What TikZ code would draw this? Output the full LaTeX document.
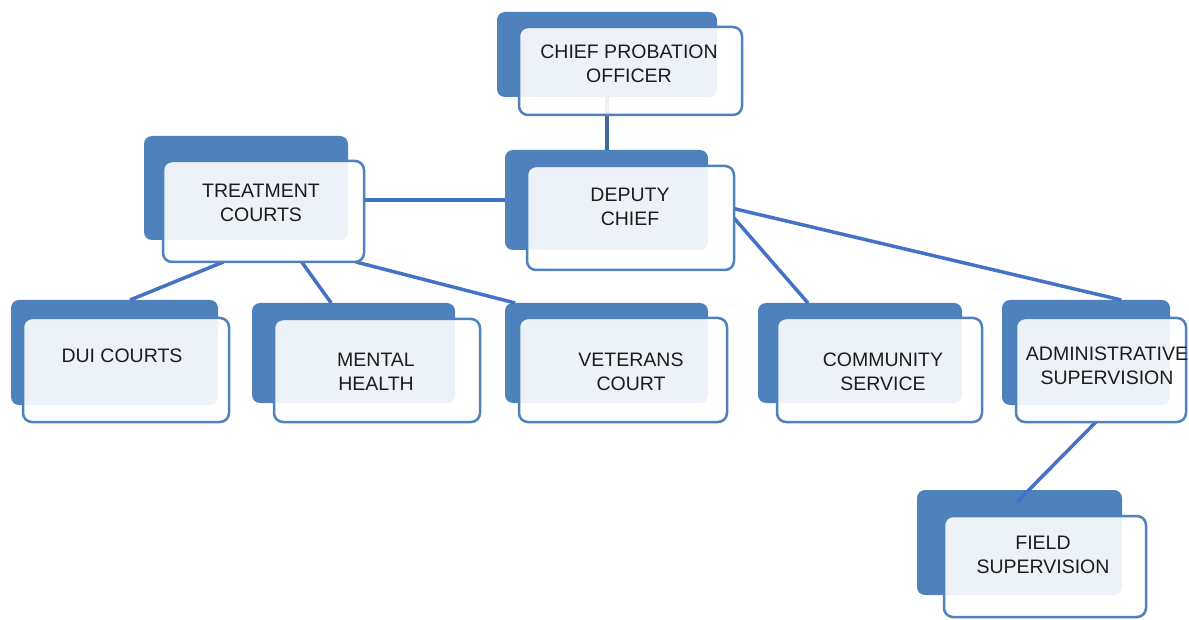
\documentclass[tikz,border=0pt]{standalone}
\usepackage{fontspec}
\setmainfont{Liberation Sans}
\usetikzlibrary{calc}
\definecolor{backblue}{HTML}{4F81BD}
\definecolor{frontblue}{HTML}{4F81BD}
\definecolor{linkblue}{HTML}{4472C4}
\definecolor{stemblue}{HTML}{41699E}
\definecolor{textgray}{HTML}{1C1C1C}
\pgfdeclarelayer{backlayer}
\pgfdeclarelayer{linklayer}
\pgfsetlayers{backlayer,linklayer,main}
\tikzset{
  backbox/.style={fill=backblue, rounded corners=8pt, inner sep=0pt, outer sep=0pt, anchor=north west},
  frontbox/.style={fill=white, fill opacity=0.9, draw=frontblue, draw opacity=1,
                   line width=2.5pt, rounded corners=9pt, inner sep=0pt, outer sep=0pt, anchor=north west},
  lbl/.style={text=textgray, align=center, inner sep=0pt, font=\fontsize{19.5}{23.5}\selectfont},
  link/.style={draw=linkblue, line width=3.5pt},
}
\begin{document}
\begin{tikzpicture}[x=1pt, y=-1pt]
\useasboundingbox (0,0) rectangle (1189,620);

% dark back plates
\begin{pgfonlayer}{backlayer}
  \node[backbox, minimum width=220pt, minimum height=85pt]  (chiefB)  at (497,12)  {};
  \node[backbox, minimum width=204pt, minimum height=104pt] (treatB)  at (144,136) {};
  \node[backbox, minimum width=203pt, minimum height=100pt] (deputyB) at (505,150) {};
  \node[backbox, minimum width=207pt, minimum height=105pt] (duiB)    at (11,300)  {};
  \node[backbox, minimum width=203pt, minimum height=100pt] (mentalB) at (252,303) {};
  \node[backbox, minimum width=203pt, minimum height=100pt] (vetB)    at (505,303) {};
  \node[backbox, minimum width=204pt, minimum height=100pt] (commB)   at (758,303) {};
  \node[backbox, minimum width=168pt, minimum height=105pt] (adminB)  at (1002,300) {};
  \node[backbox, minimum width=205pt, minimum height=105pt] (fieldB)  at (917,490) {};
\end{pgfonlayer}

% light front cards
\node[frontbox, minimum width=223pt, minimum height=88pt]  (chief)  at (519,27)  {};
\node[frontbox, minimum width=201pt, minimum height=101pt] (treat)  at (163,161) {};
\node[frontbox, minimum width=207pt, minimum height=104pt] (deputy) at (527,166) {};
\node[frontbox, minimum width=206pt, minimum height=104pt] (dui)    at (23,318)  {};
\node[frontbox, minimum width=206pt, minimum height=103pt] (mental) at (274,319) {};
\node[frontbox, minimum width=208pt, minimum height=104pt] (vet)    at (519,318) {};
\node[frontbox, minimum width=205pt, minimum height=104pt] (comm)   at (777,318) {};
\node[frontbox, minimum width=170pt, minimum height=104pt] (admin)  at (1016,318) {};
\node[frontbox, minimum width=202pt, minimum height=101pt] (field)  at (944,516) {};

% labels
\node[lbl] (chiefT)  at (629,64)  {CHIEF PROBATION\\OFFICER};
\node[lbl] (treatT)  at (261,203) {TREATMENT\\COURTS};
\node[lbl] (deputyT) at (630,207) {DEPUTY\\CHIEF};
\node[lbl] (duiT)    at (122,356) {DUI COURTS};
\node[lbl] (mentalT) at (376,372) {MENTAL\\HEALTH};
\node[lbl] (vetT)    at (631,372) {VETERANS\\COURT};
\node[lbl] (commT)   at (883,372) {COMMUNITY\\SERVICE};
\node[lbl] (adminT)  at (1107,366) {ADMINISTRATIVE\\SUPERVISION};
\node[lbl] (fieldT)  at (1043,555) {FIELD\\SUPERVISION};

% reporting lines
\begin{pgfonlayer}{linklayer}
  \draw[link, draw=stemblue] (chiefB.south) -- (chiefB.south |- deputyB.north);
  \draw[link] (deputyB.west) -- (deputyB.west -| treat.east);
  \draw[link] ($(treat.south west)!0.30!(treat.south east)$) -- ($(duiB.north west)!0.575!(duiB.north east)$);
  \draw[link] ($(treat.south west)!0.69!(treat.south east)$) -- ($(mentalB.north west)!0.39!(mentalB.north east)$);
  \draw[link] ($(treat.south west)!0.96!(treat.south east)$) -- ($(vetB.north west)!0.05!(vetB.north east)$);
  \draw[link] (deputy.east) -- ($(commB.north west)!0.245!(commB.north east)$);
  \draw[link] ($(deputy.north east)!0.41!(deputy.south east)$) -- ($(adminB.north west)!0.71!(adminB.north east)$);
  \draw[link] ($(admin.south west)!0.47!(admin.south east)$) -- ($(fieldB.north west)+(100,12)$);
\end{pgfonlayer}
\end{tikzpicture}
\end{document}
